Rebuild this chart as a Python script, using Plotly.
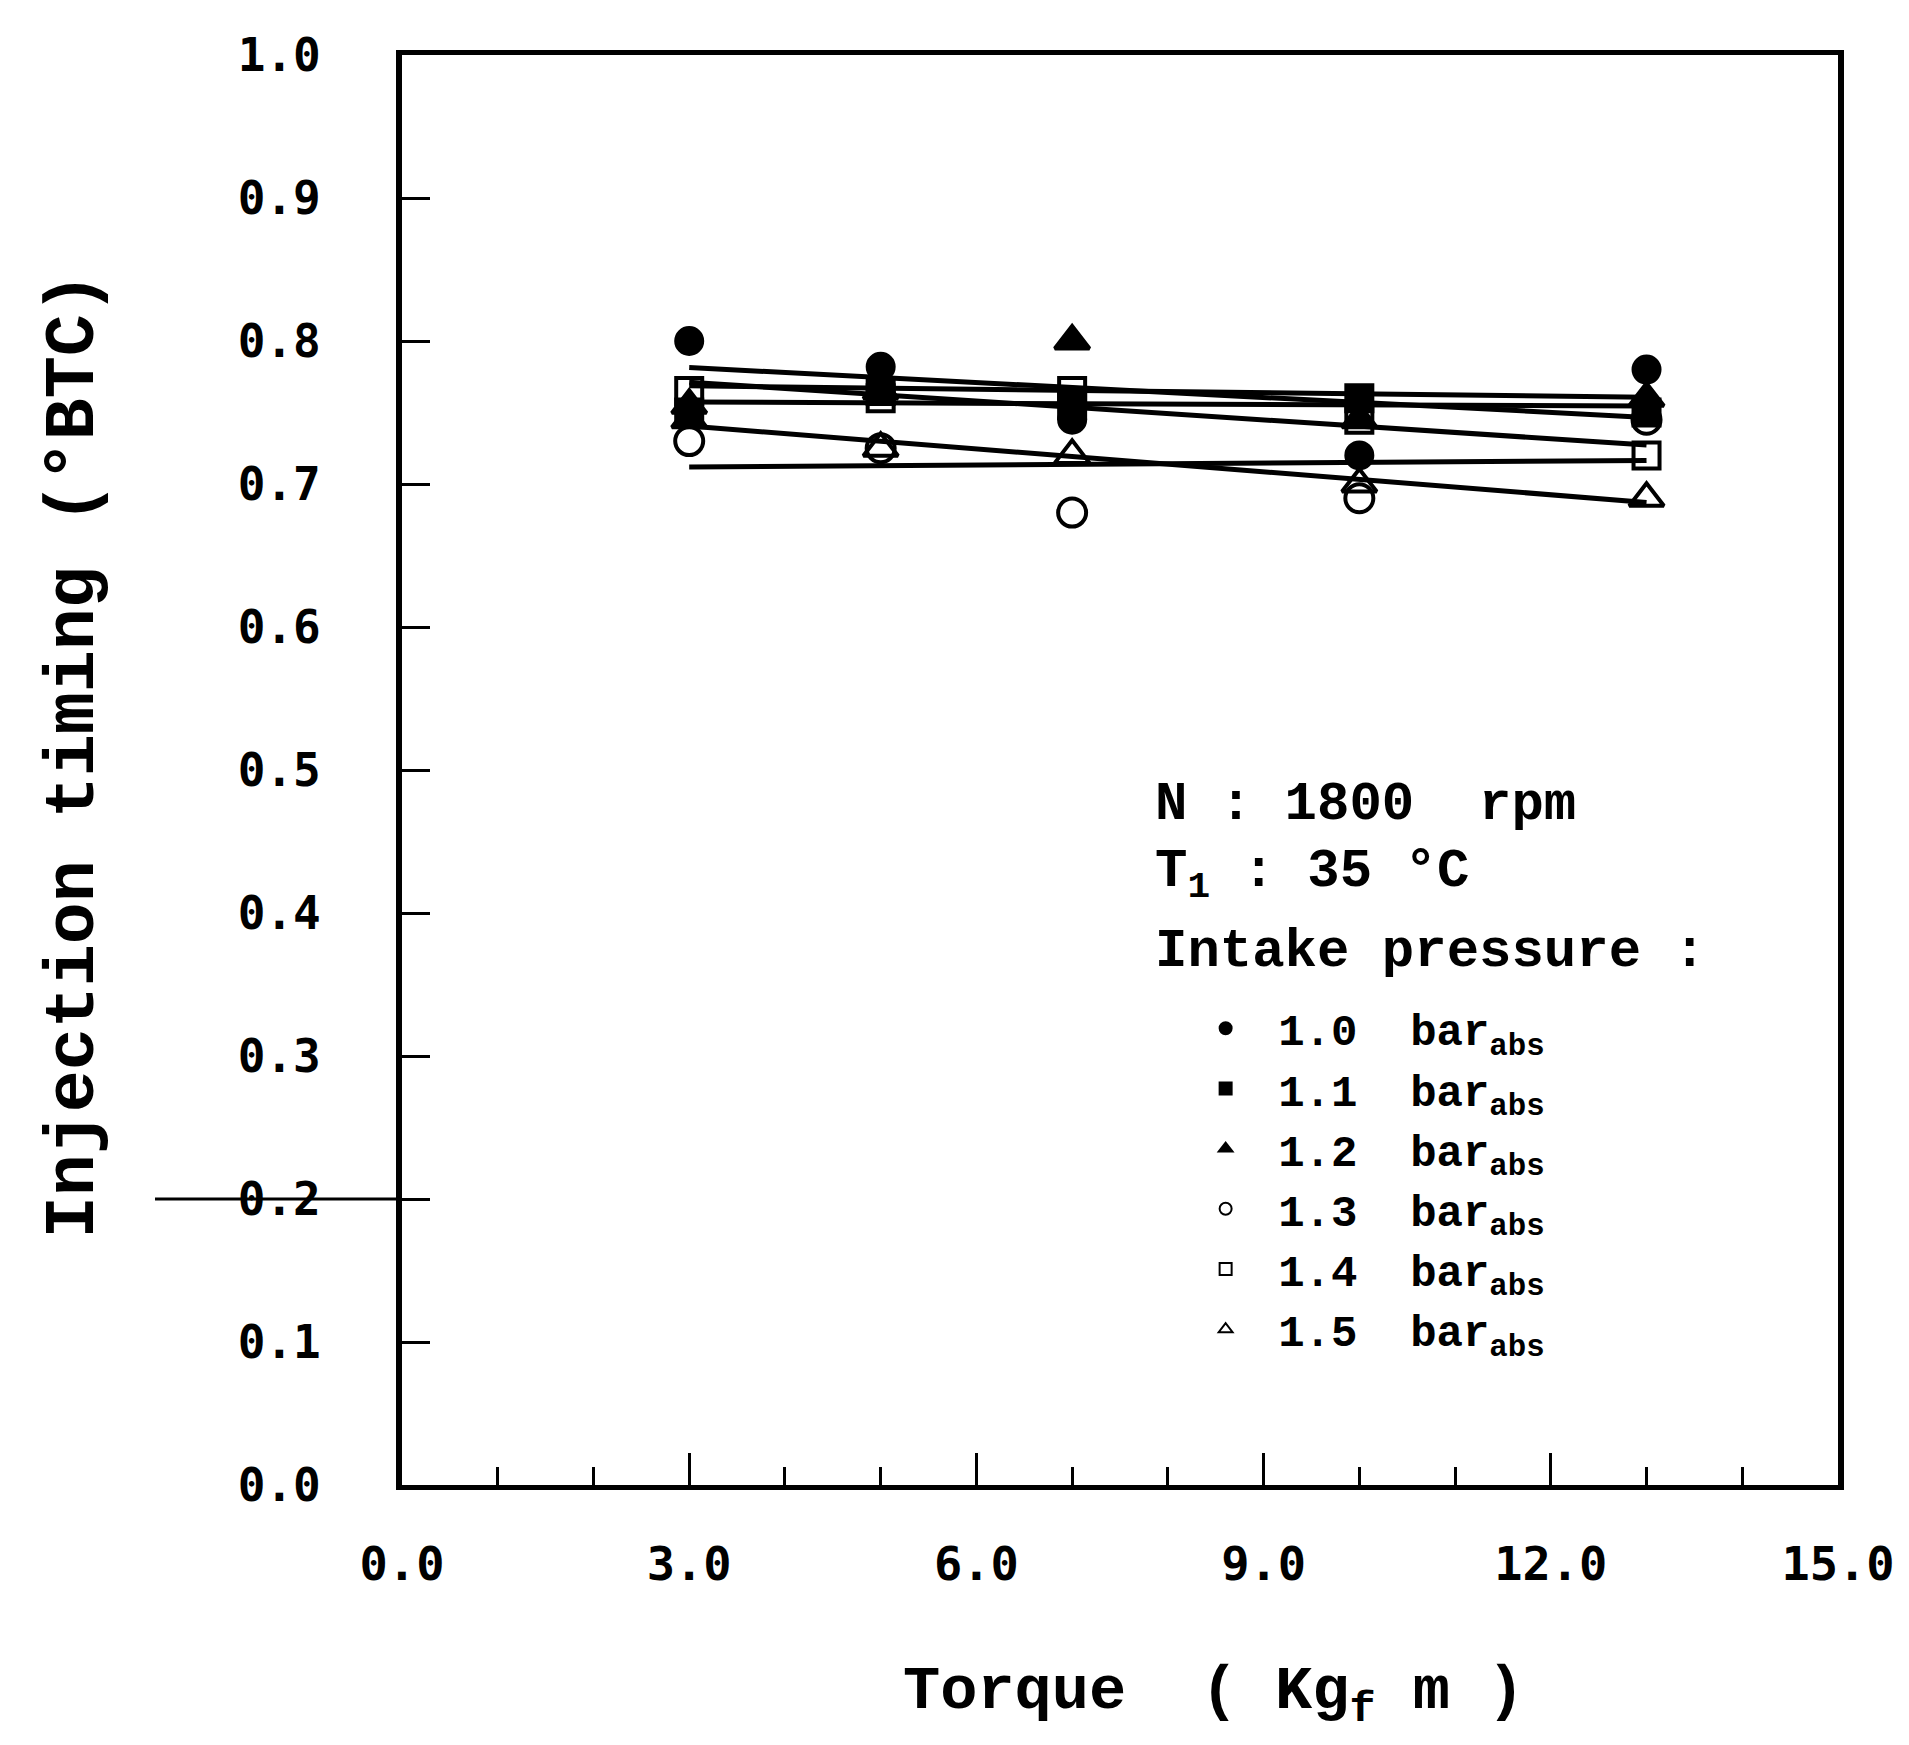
import numpy as np
import plotly.graph_objects as go

# Engine torque (Kgf m) at which injection timing was measured
torque = [3.0, 5.0, 7.0, 10.0, 13.0]

# Injection timing (deg BTC) for each intake pressure
timing_p10 = [0.800, 0.782, 0.745, 0.720, 0.780]
timing_p11 = [0.750, 0.765, 0.755, 0.760, 0.750]
timing_p12 = [0.755, 0.765, 0.800, 0.745, 0.760]
timing_p13 = [0.730, 0.725, 0.680, 0.690, 0.745]
timing_p14 = [0.765, 0.760, 0.765, 0.745, 0.720]
timing_p15 = [0.745, 0.725, 0.720, 0.700, 0.690]

pressure_labels = ["1.0", "1.1", "1.2", "1.3", "1.4", "1.5"]
series = [timing_p10, timing_p11, timing_p12, timing_p13, timing_p14, timing_p15]
symbols = ["circle", "square", "triangle-up", "circle-open", "square-open", "triangle-up-open"]
sizes = [26, 26, 30, 28, 26, 30]

x_ticks = [0.0, 3.0, 6.0, 9.0, 12.0, 15.0]
y_ticks = [0.0, 0.1, 0.2, 0.3, 0.4, 0.5, 0.6, 0.7, 0.8, 0.9, 1.0]

MONO = "DejaVu Sans Mono"
SERIF_MONO = "Liberation Mono"

fig = go.Figure()

# least-squares trend line for each pressure, drawn across the measured range
for vals in series:
    slope, icpt = np.polyfit(torque, vals, 1)
    xs = np.array([min(torque), max(torque)])
    fig.add_trace(go.Scatter(
        x=xs, y=slope * xs + icpt, mode="lines",
        line=dict(color="black", width=5), showlegend=False, hoverinfo="skip",
    ))

# measured points (open symbols first so the filled ones sit on top)
order = [3, 4, 5, 0, 1, 2]
for i in order:
    fig.add_trace(go.Scatter(
        x=torque, y=series[i], mode="markers",
        name=f"{pressure_labels[i]}  bar<sub>abs</sub>",
        legendrank=i + 1,
        marker=dict(symbol=symbols[i], size=sizes[i], color="black",
                    line=dict(color="black", width=4)),
    ))

fig.update_layout(
    width=1909, height=1745,
    margin=dict(l=402, r=71, t=55, b=260),
    paper_bgcolor="white", plot_bgcolor="white",
    showlegend=True,
    legend=dict(
        x=0.537, y=0.344, xanchor="left", yanchor="top",
        bgcolor="rgba(0,0,0,0)", borderwidth=0,
        font=dict(family=SERIF_MONO, size=44, color="black", weight="bold"),
        itemwidth=95, traceorder="normal", itemsizing="constant",
        tracegroupgap=0,
    ),
)

fig.update_xaxes(
    range=[0, 15], tickvals=x_ticks, ticktext=[f"{v:.1f}" for v in x_ticks],
    ticks="inside", ticklen=32, tickwidth=3, tickcolor="black",
    minor=dict(dtick=1, ticks="inside", ticklen=18, tickwidth=3, tickcolor="black"),
    showline=True, linewidth=5, linecolor="black", mirror=True,
    showgrid=False, zeroline=False, ticklabelstandoff=34,
    tickfont=dict(family=MONO, size=47, color="black", weight="bold"),
)
fig.update_yaxes(
    range=[0, 1], tickvals=y_ticks, ticktext=[f"{v:.1f}" for v in y_ticks],
    ticks="inside", ticklen=28, tickwidth=3, tickcolor="black",
    showline=True, linewidth=6, linecolor="black", mirror=True,
    showgrid=False, zeroline=False, ticklabelstandoff=66,
    tickfont=dict(family=MONO, size=46, color="black", weight="bold"),
)

# condition notes above the legend
notes = [
    ("N : 1800  rpm", 0.476),
    ("T<sub>1</sub> : 35 °C", 0.427),
    ("Intake pressure :", 0.373),
]
for txt, yy in notes:
    fig.add_annotation(
        text=txt, xref="paper", yref="paper", x=0.523, y=yy,
        xanchor="left", yanchor="middle", showarrow=False,
        font=dict(family=SERIF_MONO, size=54, color="black", weight="bold"),
    )

# axis titles
fig.add_annotation(
    text="Injection timing (°BTC)", xref="paper", yref="paper",
    x=-0.228, y=0.51, textangle=-90, showarrow=False,
    xanchor="center", yanchor="middle",
    font=dict(family=SERIF_MONO, size=70, color="black", weight="bold"),
)
fig.add_annotation(
    text="Torque  ( Kg<sub>f</sub> m )", xref="paper", yref="paper",
    x=0.565, y=-0.147, showarrow=False, xanchor="center", yanchor="middle",
    font=dict(family=SERIF_MONO, size=62, color="black", weight="bold"),
)

# short rule running left from the 0.2 tick
fig.add_shape(type="line", xref="paper", yref="y", x0=-0.172, x1=0.0, y0=0.2, y1=0.2,
              line=dict(color="black", width=3))

fig.write_html("out.html")
